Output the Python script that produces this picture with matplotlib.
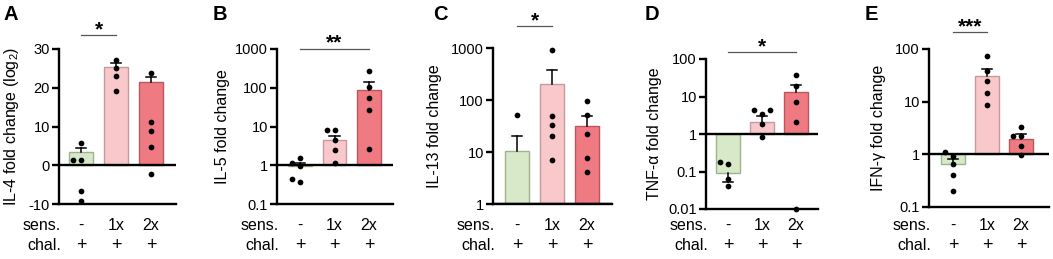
import numpy as np
import matplotlib.pyplot as plt
from matplotlib.lines import Line2D

plt.rcParams['font.family'] = ['Liberation Sans', 'DejaVu Sans']
plt.rcParams['mathtext.default'] = 'regular'

W, H = 1053, 259

sens = ['-', '1x', '2x']
chal = ['+', '+', '+']
fills = ['#d8e9ca', '#f9c8ca', '#ef7a82']
edges = ['#9cb48c', '#c49a9c', '#b8575e']

# A  IL-4 (log2 fold change)
il4_mean = [3.5, 25.4, 21.5]
il4_err = [4.5, 26.3, 22.7]
il4_pts = [[5.8, 1.4, 1.4, -6.7, -9.3], [27.2, 25.0, 23.0, 19.2], [23.9, 11.1, 8.8, 4.6, -2.3]]

# B  IL-5
il5_mean = [0.95, 4.5, 89]
il5_err = [1.15, 5.7, 137]
il5_pts = [[1.52, 1.13, 0.98, 0.38, 0.44], [7.9, 7.9, 4.5, 2.5, 1.13], [265, 104, 54, 26, 2.7]]

# C  IL-13
il13_mean = [10.5, 199, 32]
il13_err = [20.7, 376, 49]
il13_pts = [[52], [900, 50, 33, 20.4, 6.9], [96.6, 52, 22, 7.8, 4.2]]

# D  TNF-a
tnf_mean = [0.09, 2.1, 13]
tnf_err = [0.054, 3.0, 20]
tnf_pts = [[0.157, 0.184, 0.063, 0.04], [4.3, 4.3, 3.4, 1.9, 0.81], [37, 18.8, 7.2, 2.1, 0.01]]

# E  IFN-g
ifn_mean = [0.66, 31, 1.99]
ifn_err = [0.83, 42.6, 2.4]
ifn_pts = [[1.09, 0.93, 0.66, 0.40, 0.20], [73, 38, 24.6, 14.7, 8.8], [3.3, 2.2, 2.2, 1.42, 0.96]]

panels = [
    dict(letter='A', ylabel='IL-4 fold change (log$_2$)', mean=il4_mean, err=il4_err, pts=il4_pts,
         log=False, ylim=(-10, 30), ticks=[-10, 0, 10, 20, 30], base=0,
         box=(59, 176, 49, 204), c=(81, 151), lab_x=12, letter_x=3,
         sig=(0, 1, '*', 35, 30)),
    dict(letter='B', ylabel='IL-5 fold change', mean=il5_mean, err=il5_err, pts=il5_pts,
         log=True, ylim=(0.1, 1000), ticks=[0.1, 1, 10, 100, 1000], base=1,
         box=(277, 393, 49, 204), c=(300, 369), lab_x=223, letter_x=213,
         sig=(0, 2, '**', 49, 43)),
    dict(letter='C', ylabel='IL-13 fold change', mean=il13_mean, err=il13_err, pts=il13_pts,
         log=True, ylim=(1, 1000), ticks=[1, 10, 100, 1000], base=1,
         box=(493, 612, 48, 204), c=(517, 587), lab_x=435, letter_x=433,
         sig=(0, 1, '*', 26, 21)),
    dict(letter='D', ylabel='TNF-α fold change', mean=tnf_mean, err=tnf_err, pts=tnf_pts,
         log=True, ylim=(0.01, 100), ticks=[0.01, 0.1, 1, 10, 100], base=1,
         box=(706, 818, 59, 209), c=(728, 796), lab_x=654, letter_x=645,
         sig=(0, 2, '*', 52, 47)),
    dict(letter='E', ylabel='IFN-γ fold change', mean=ifn_mean, err=ifn_err, pts=ifn_pts,
         log=True, ylim=(0.1, 100), ticks=[0.1, 1, 10, 100], base=1,
         box=(929, 1049, 49, 207), c=(953, 1021), lab_x=878, letter_x=865,
         sig=(0, 1, '***', 32, 27)),
]

fig = plt.figure(figsize=(W / 100, H / 100), dpi=100)


def fx(px):
    return px / W


def fy(py):
    return 1 - py / H


for p in panels:
    left, right, top, bot = p['box']
    c0, c2 = p['c']
    sp = (c2 - c0) / 2
    ax = fig.add_axes([fx(left), fy(bot), (right - left) / W, (bot - top) / H])
    if p['log']:
        ax.set_yscale('log')
    ax.set_ylim(*p['ylim'])
    ax.set_xlim((left - c0) / sp, (right - c0) / sp)
    x = np.arange(3)
    base = p['base']
    mean = np.array(p['mean'])
    ax.bar(x, mean - base, bottom=base, width=0.68, color=fills, edgecolor=edges, lw=1, zorder=2)
    # error bars
    for i in range(3):
        ax.plot([i, i], [mean[i], p['err'][i]], color='k', lw=1.1, zorder=3)
        ax.plot([i - 0.15, i + 0.15], [p['err'][i]] * 2, color='k', lw=1.1, zorder=3)
    ax.axhline(base, color='k', lw=1.7, zorder=3)
    # dots, spread when they overlap
    for i, vals in enumerate(p['pts']):
        placed = []
        xs, ys = [], []
        for v in sorted(vals):
            ypix = ax.transData.transform((0, v))[1]
            for off in [0, -8, 8, -16, 16]:
                if all(abs(off - po) >= 6.5 or abs(ypix - py) >= 6 for po, py in placed):
                    break
            placed.append((off, ypix))
            xs.append(i + off / sp)
            ys.append(v)
        ax.scatter(xs, ys, s=17, color='k', zorder=4, clip_on=False, linewidths=0)
    for s in ['top', 'right']:
        ax.spines[s].set_visible(False)
    for s in ['left', 'bottom']:
        ax.spines[s].set_linewidth(1.7)
    ax.set_xticks([])
    ax.set_yticks(p['ticks'])
    ax.set_yticklabels([('%g' % t) for t in p['ticks']], fontsize=10.5)
    ax.minorticks_off()
    ax.tick_params(axis='y', length=5, width=1.7, pad=1.5)
    ax.patch.set_alpha(0)

    # labels below bars
    fig.text(fx(left + 2), fy(225), 'sens.', ha='right', va='center', fontsize=11.5)
    fig.text(fx(left + 2), fy(246), 'chal.', ha='right', va='center', fontsize=11.5)
    for i in range(3):
        fig.text(fx(c0 + i * sp), fy(225), sens[i], ha='center', va='center', fontsize=11.5)
        fig.text(fx(c0 + i * sp), fy(246), chal[i], ha='center', va='center', fontsize=13)

    fig.text(fx(p['lab_x']), fy((top + bot) / 2), p['ylabel'], rotation=90,
             ha='center', va='center', fontsize=11.5)
    fig.text(fx(p['letter_x']), fy(14), p['letter'], ha='left', va='center',
             fontsize=14.5, fontweight='bold')

    i1, i2, star, ly, sy = p['sig']
    fig.add_artist(Line2D([fx(c0 + i1 * sp), fx(c0 + i2 * sp)], [fy(ly)] * 2, color='#555555', lw=0.9))
    fig.text(fx(c0 + (i1 + i2) / 2 * sp), fy(sy), star, ha='center', va='center',
             fontsize=15, fontweight='bold')

fig.savefig('out.png', dpi=100)
